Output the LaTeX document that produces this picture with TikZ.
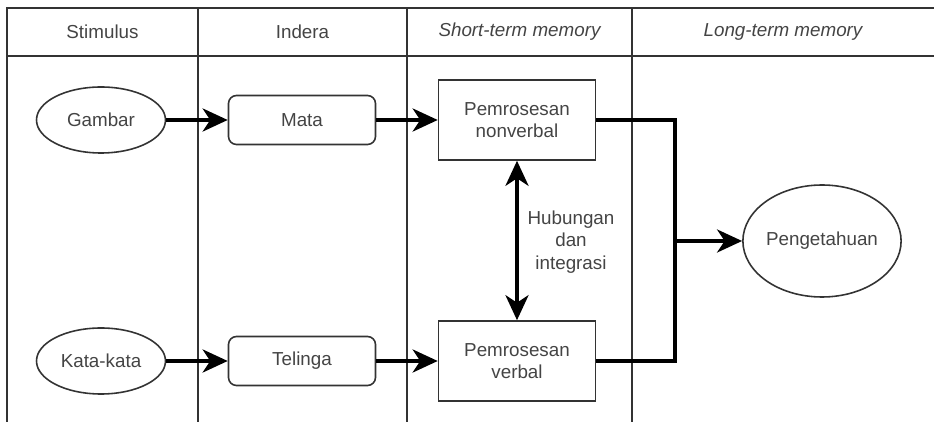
\documentclass[tikz,border=0pt]{standalone}
\usepackage{fontspec}
\setmainfont{Liberation Sans}
\usetikzlibrary{arrows.meta,shapes.geometric}

\definecolor{txtgray}{HTML}{444444}
\definecolor{linegray}{HTML}{333333}

\tikzset{
	every node/.style = {font=\fontsize{10.7}{12.8}\selectfont, text=txtgray},
	oval/.style = {ellipse, draw=linegray, line width=0.9pt, inner sep=0pt},
	sense/.style = {rectangle, rounded corners=0.16cm, draw=linegray, line width=0.9pt, minimum width=2.94cm, minimum height=0.98cm},
	proc/.style = {rectangle, draw=linegray, line width=0.9pt, minimum width=3.14cm, minimum height=1.6cm, align=center},
	tip/.style = {Stealth[length=0.5cm, width=0.46cm, inset=0.15cm]},
	flow/.style = {draw=black, line width=2.1pt, -{Stealth[length=0.5cm, width=0.46cm, inset=0.15cm]}},
	biflow/.style = {draw=black, line width=2.1pt, {Stealth[length=0.5cm, width=0.46cm, inset=0.15cm]}-{Stealth[length=0.5cm, width=0.46cm, inset=0.15cm]}},
	wire/.style = {draw=black, line width=2.1pt, line join=miter},
	grid/.style = {draw=linegray, line width=0.9pt}
}

\begin{document}
\begin{tikzpicture}
		\useasboundingbox (0,0) rectangle (18.68,-8.44);
		% lanes
		\draw[grid] (18.68,-0.16) -- (0.14,-0.16) -- (0.14,-8.44);
		\draw[grid] (0.14,-1.12) -- (18.68,-1.12);
		\draw[grid] (3.96,-0.16) -- (3.96,-8.44);
		\draw[grid] (8.14,-0.16) -- (8.14,-8.44);
		\draw[grid] (12.64,-0.16) -- (12.64,-8.44);
		\node (s) at (2.05,-0.64) {Stimulus};
		\node (t) at (6.05,-0.64) {Indera};
		\node (u) at (10.39,-0.64) {\itshape Short-term memory};
		\node (v) at (15.66,-0.64) {\itshape Long-term memory};

		\node (a) [oval, minimum width=2.58cm, minimum height=1.32cm] at (2.02,-2.40) {Gambar};
		\node (b) [sense] [node distance = 4.02cm] [right of = a] {Mata};
		\node (c) [proc] [node distance = 4.30cm] [right of = b] {Pemrosesan\\nonverbal};
		\node (d) [oval, minimum width=2.58cm, minimum height=1.32cm] at (2.02,-7.22) {Kata-kata};
		\node (e) [sense] [node distance = 4.02cm] [right of = d] {Telinga};
		\node (f) [proc] [node distance = 4.30cm] [right of = e] {Pemrosesan\\verbal};
		\node (g) [oval, minimum width=2.82cm, minimum height=2.24cm] at (16.44,-4.82) {Pengetahuan};
		\node (h) [align=center] at (11.42,-4.84) {Hubungan\\dan\\integrasi};
		\coordinate (j) at (13.5,-4.82);

		\path (a) edge[flow] (b);
		\path (b) edge[flow] (c);
		\path (d) edge[flow] (e);
		\path (e) edge[flow] (f);
		\path (c) edge[biflow] (f);
		\draw[wire] (c.east) -| (j);
		\draw[wire] (f.east) -| (j);
		\path (j) edge[flow] (g);
\end{tikzpicture}
\end{document}
